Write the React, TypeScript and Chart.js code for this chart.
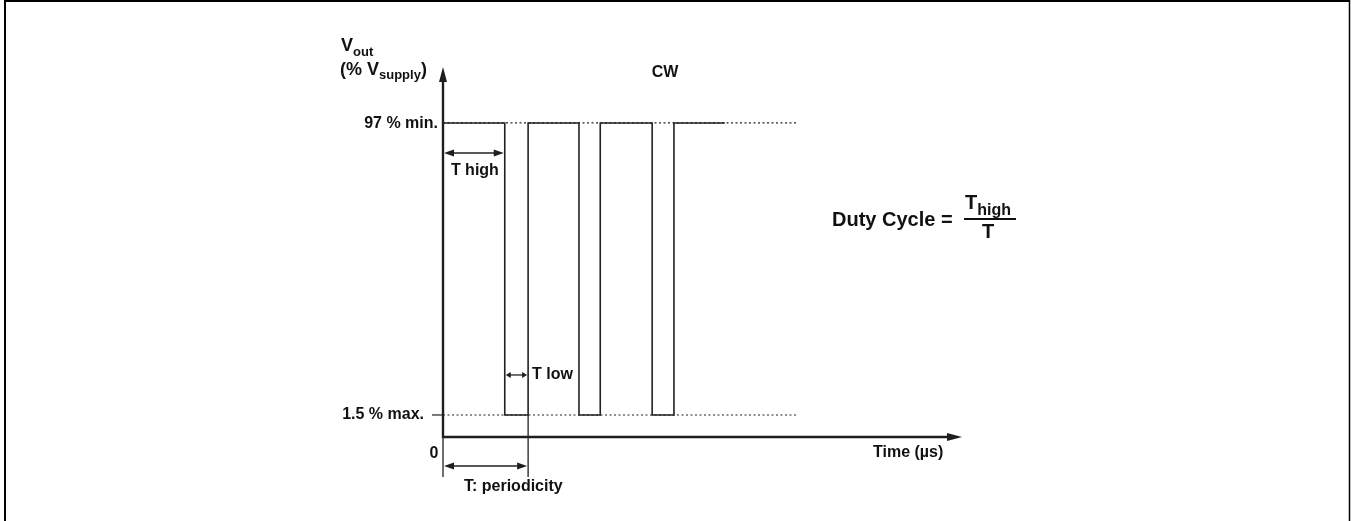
import { useEffect, useRef } from "react";
import { Chart, registerables } from "chart.js";

Chart.register(...registerables);

const FONT = '"Liberation Sans", Arial, Helvetica, sans-serif';

// Schematic waveform (time in µs, schematic units; level in % of Vsupply)
const waveTimes = [0, 11.9, 11.9, 16.4, 16.4, 26.2, 26.2, 30.3, 30.3, 40.3, 40.3, 44.5, 44.5, 54.3];
const waveLevels = [97, 97, 1.5, 1.5, 97, 97, 1.5, 1.5, 97, 97, 1.5, 1.5, 97, 97];

const highLevel = 97;
const lowLevel = 1.5;
const guideStart = 0;
const guideEnd = 68.4;
const tHighEnd = 11.9;
const periodEnd = 16.4;

const xMin = 0;
const xMax = 100;
const yMin = -5.7;
const yMax = 115.3;

const highLabel = "97 % min.";
const lowLabel = "1.5 % max.";
const originLabel = "0";
const xAxisTitle = "Time (µs)";
const chartTitle = "CW";

type Run = { text: string; size: number; dy: number };

function drawRuns(ctx: CanvasRenderingContext2D, x: number, baseline: number, runs: Run[]) {
  let cx = x;
  ctx.textAlign = "left";
  ctx.textBaseline = "alphabetic";
  for (const r of runs) {
    ctx.font = `bold ${r.size}px ${FONT}`;
    ctx.fillText(r.text, cx, baseline + r.dy);
    cx += ctx.measureText(r.text).width;
  }
}

function doubleArrow(ctx: CanvasRenderingContext2D, x1: number, x2: number, y: number, head: number, half: number, lw: number) {
  ctx.lineWidth = lw;
  ctx.beginPath();
  ctx.moveTo(x1 + head - 1, y);
  ctx.lineTo(x2 - head + 1, y);
  ctx.stroke();
  ctx.beginPath();
  ctx.moveTo(x1, y);
  ctx.lineTo(x1 + head, y - half);
  ctx.lineTo(x1 + head, y + half);
  ctx.closePath();
  ctx.fill();
  ctx.beginPath();
  ctx.moveTo(x2, y);
  ctx.lineTo(x2 - head, y - half);
  ctx.lineTo(x2 - head, y + half);
  ctx.closePath();
  ctx.fill();
}

const annotationPlugin = {
  id: "schematic",
  afterDatasetsDraw(chart: any) {
    const ctx: CanvasRenderingContext2D = chart.ctx;
    const xs = chart.scales.x;
    const ys = chart.scales.y;
    const X = (v: number) => xs.getPixelForValue(v);
    const Y = (v: number) => ys.getPixelForValue(v);
    const x0 = X(xMin);
    const xEnd = X(xMax);
    const yBase = Y(yMin);
    const yTop = Y(yMax);
    const yHi = Y(highLevel);
    const yLo = Y(lowLevel);
    const xTh = X(tHighEnd);
    const xT = X(periodEnd);
    const W = chart.width;
    const H = chart.height;

    ctx.save();

    // frame
    ctx.strokeStyle = "#000";
    ctx.lineWidth = 2;
    ctx.beginPath();
    ctx.moveTo(5, H);
    ctx.lineTo(5, 1);
    ctx.lineTo(W - 1, 1);
    ctx.stroke();
    ctx.lineWidth = 1.5;
    ctx.beginPath();
    ctx.moveTo(W - 1.5, 0);
    ctx.lineTo(W - 1.5, H);
    ctx.stroke();

    // axes
    ctx.strokeStyle = "#1e1e1e";
    ctx.fillStyle = "#1e1e1e";
    ctx.lineWidth = 2.4;
    ctx.beginPath();
    ctx.moveTo(x0, yBase + 1);
    ctx.lineTo(x0, yTop + 12);
    ctx.moveTo(x0 - 1, yBase);
    ctx.lineTo(xEnd - 12, yBase);
    ctx.stroke();
    ctx.beginPath();
    ctx.moveTo(x0, yTop);
    ctx.lineTo(x0 - 4, yTop + 15);
    ctx.lineTo(x0 + 4, yTop + 15);
    ctx.closePath();
    ctx.fill();
    ctx.beginPath();
    ctx.moveTo(xEnd, yBase);
    ctx.lineTo(xEnd - 15, yBase - 4);
    ctx.lineTo(xEnd - 15, yBase + 4);
    ctx.closePath();
    ctx.fill();

    // thin extensions below the time axis
    ctx.lineWidth = 1.3;
    ctx.strokeStyle = "#222";
    ctx.beginPath();
    ctx.moveTo(x0, yBase);
    ctx.lineTo(x0, yBase + 40);
    ctx.moveTo(xT, yLo);
    ctx.lineTo(xT, yBase + 40);
    ctx.stroke();

    // low-level tick
    ctx.lineWidth = 1.2;
    ctx.beginPath();
    ctx.moveTo(x0 - 11, yLo);
    ctx.lineTo(x0, yLo);
    ctx.stroke();

    // dimension arrows
    ctx.strokeStyle = "#222";
    ctx.fillStyle = "#1e1e1e";
    doubleArrow(ctx, x0 + 1, xTh - 1, yHi + 30, 10, 3.5, 1.5);
    doubleArrow(ctx, xTh + 1, xT - 1, yLo - 40, 5, 3, 1.3);
    doubleArrow(ctx, x0 + 1, xT - 1, yBase + 29, 10, 3.5, 1.5);

    // texts
    ctx.fillStyle = "#111";
    ctx.font = `bold 16px ${FONT}`;
    ctx.textBaseline = "middle";
    ctx.textAlign = "right";
    ctx.fillText(highLabel, x0 - 5, yHi + 1);
    ctx.fillText(lowLabel, x0 - 19, yLo);
    ctx.textAlign = "center";
    ctx.fillText(originLabel, x0 - 9, yBase + 17);
    ctx.fillText("T high", (x0 + xTh) / 2 + 1, yHi + 48);
    ctx.fillText(chartTitle, 665, yTop + 6);
    ctx.textAlign = "left";
    ctx.fillText("T low", xT + 4, yLo - 40);
    ctx.fillText("T: periodicity", x0 + 21, yBase + 50);
    ctx.fillText(xAxisTitle, 873, yBase + 16);

    // y-axis title
    drawRuns(ctx, 341, 51, [
      { text: "V", size: 18, dy: 0 },
      { text: "out", size: 13, dy: 5 },
    ]);
    drawRuns(ctx, 340, 75, [
      { text: "(% V", size: 18, dy: 0 },
      { text: "supply", size: 13, dy: 4 },
      { text: ")", size: 18, dy: 0 },
    ]);

    // duty cycle formula
    drawRuns(ctx, 832, 226, [{ text: "Duty Cycle =", size: 20, dy: 0 }]);
    drawRuns(ctx, 965, 209, [
      { text: "T", size: 20, dy: 0 },
      { text: "high", size: 16, dy: 6 },
    ]);
    ctx.strokeStyle = "#111";
    ctx.lineWidth = 2;
    ctx.beginPath();
    ctx.moveTo(964, 219);
    ctx.lineTo(1016, 219);
    ctx.stroke();
    ctx.font = `bold 20px ${FONT}`;
    ctx.textAlign = "center";
    ctx.textBaseline = "alphabetic";
    ctx.fillText("T", 988, 238);

    ctx.restore();
  },
};

export default function App() {
  const ref = useRef<HTMLCanvasElement | null>(null);

  useEffect(() => {
    if (!ref.current) return;
    const wave = waveTimes.map((t, i) => ({ x: t, y: waveLevels[i] }));
    const highGuide = [
      { x: guideStart, y: highLevel },
      { x: guideEnd, y: highLevel },
    ];
    const lowGuide = [
      { x: guideStart, y: lowLevel },
      { x: guideEnd, y: lowLevel },
    ];
    const chart = new Chart(ref.current, {
      type: "line",
      data: {
        datasets: [
          {
            label: "high guide",
            data: highGuide,
            borderColor: "#222",
            borderWidth: 1.2,
            borderDash: [2, 2.5],
            pointRadius: 0,
          },
          {
            label: "low guide",
            data: lowGuide,
            borderColor: "#222",
            borderWidth: 1.2,
            borderDash: [2, 2.5],
            pointRadius: 0,
          },
          {
            label: "Vout",
            data: wave,
            borderColor: "#222",
            borderWidth: 1.6,
            pointRadius: 0,
            tension: 0,
          },
        ],
      },
      options: {
        animation: false,
        responsive: false,
        layout: { padding: { left: 443, right: 389, top: 67, bottom: 84 } },
        plugins: { legend: { display: false }, tooltip: { enabled: false } },
        scales: {
          x: { type: "linear", display: false, min: xMin, max: xMax },
          y: { type: "linear", display: false, min: yMin, max: yMax },
        },
      },
      plugins: [annotationPlugin],
    });
    return () => chart.destroy();
  }, []);

  return (
    <div style={{ position: "absolute", left: 0, top: 0, width: 1351, height: 521, background: "#fff" }}>
      <canvas ref={ref} width={1351} height={521} style={{ display: "block" }} />
    </div>
  );
}
